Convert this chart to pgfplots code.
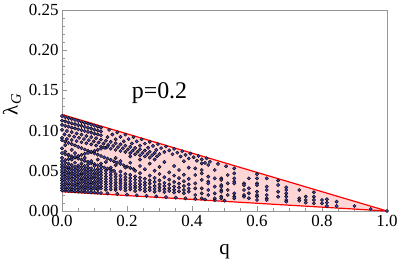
\documentclass[border=0pt]{standalone}
\usepackage{fontspec}
\setmainfont{Liberation Serif}
\usepackage{pgfplots}
\pgfplotsset{compat=1.18}
\definecolor{dotblue}{RGB}{68,68,168}
\definecolor{pinkfill}{RGB}{255,214,214}
\definecolor{framegray}{RGB}{150,150,150}
\begin{document}
\begin{tikzpicture}
\begin{axis}[
 scale only axis, width=325bp, height=201bp,
 xmin=0, xmax=1, ymin=0, ymax=0.25,
 axis line style={framegray, line width=0.6pt},
 tick style={framegray, line width=0.6pt},
 tick align=inside, tick pos=left,
 major tick length=5bp, minor tick length=3bp,
 xtick={0,0.2,0.4,0.6,0.8,1.0}, xticklabels={0.0,0.2,0.4,0.6,0.8,1.0},
 ytick={0,0.05,0.1,0.15,0.2,0.25}, yticklabels={0.00,0.05,0.10,0.15,0.20,0.25},
 minor x tick num=3, minor y tick num=4,
 ticklabel style={font=\fontsize{17}{20}\selectfont},
 xticklabel style={yshift=-1bp},
 xlabel={q}, ylabel={λ\textsubscript{\textit{G}}},
 label style={font=\fontsize{21}{24}\selectfont},
 xlabel style={at={(axis description cs:0.5,-0.2)}, anchor=center},
 ylabel style={at={(axis description cs:-0.154,0.53)}, anchor=center},
 clip=false,
]
\addplot[fill=pinkfill, draw=none] coordinates {(0,0.024) (0,0.12) (1,0) (0,0.024)};
\addplot[red, line width=1.2pt] coordinates {(0,0.12) (1,0)};
\addplot[red, line width=1.2pt] coordinates {(0,0.024) (1,0)};
\addplot[only marks, mark=*, mark size=1.7pt, mark options={fill=dotblue, draw=none}] coordinates {
(0,0.1180)(0.01,0.1168)(0.02,0.1156)(0.03,0.1145)(0.04,0.1133)(0.05,0.1121)(0.06,0.1109)(0.07,0.1097)(0.08,0.1086)(0.09,0.1074)(0.10,0.1062)(0.11,0.1050)(0.12,0.1038)
(0.145,0.1009)(0.17,0.0979)(0.195,0.0950)(0.22,0.0920)(0.245,0.0891)(0.27,0.0861)(0.295,0.0832)(0.32,0.0802)(0.345,0.0773)(0.37,0.0743)(0.395,0.0714)(0.42,0.0684)(0.445,0.0655)
(0,0.1125)(0.01,0.1114)(0.02,0.1103)(0.03,0.1091)(0.04,0.1080)(0.05,0.1069)(0.06,0.1058)(0.07,0.1046)(0.08,0.1035)(0.09,0.1024)(0.10,0.1013)(0.11,0.1001)(0.12,0.0990)
(0.155,0.0951)(0.18,0.0923)(0.205,0.0894)(0.23,0.0866)(0.255,0.0838)(0.28,0.0810)(0.305,0.0782)(0.33,0.0754)(0.355,0.0726)(0.38,0.0698)(0.405,0.0669)(0.43,0.0641)(0.455,0.0613)(0.48,0.0585)(0.505,0.0557)
(0,0.1070)(0.01,0.1059)(0.02,0.1049)(0.03,0.1038)(0.04,0.1027)(0.05,0.1017)(0.06,0.1006)(0.07,0.0995)(0.08,0.0984)(0.09,0.0974)(0.10,0.0963)(0.11,0.0952)(0.12,0.0942)
(0.14,0.0920)(0.165,0.0893)(0.19,0.0867)(0.215,0.0840)(0.24,0.0813)(0.265,0.0786)(0.29,0.0760)(0.315,0.0733)(0.34,0.0706)(0.365,0.0679)(0.39,0.0653)(0.415,0.0626)(0.44,0.0599)
(0,0.1010)(0.015,0.0995)(0.03,0.0980)(0.045,0.0965)(0.06,0.0949)(0.075,0.0934)(0.09,0.0919)(0.105,0.0904)(0.12,0.0889)(0.135,0.0874)(0.15,0.0859)(0.165,0.0843)(0.18,0.0828)(0.195,0.0813)(0.21,0.0798)(0.225,0.0783)(0.24,0.0768)(0.255,0.0752)(0.27,0.0737)(0.285,0.0722)(0.30,0.0707)
(0.0075,0.0953)(0.0225,0.0938)(0.0375,0.0924)(0.0525,0.0910)(0.0675,0.0895)(0.0825,0.0881)(0.0975,0.0866)(0.1125,0.0852)(0.1275,0.0838)(0.1425,0.0823)(0.1575,0.0809)(0.1725,0.0794)(0.1875,0.0780)(0.2025,0.0766)(0.2175,0.0751)(0.2325,0.0737)(0.2475,0.0722)(0.2625,0.0708)(0.2775,0.0694)(0.2925,0.0679)
(0,0.0910)(0.015,0.0896)(0.03,0.0883)(0.045,0.0869)(0.06,0.0855)(0.075,0.0842)(0.09,0.0828)(0.105,0.0814)(0.12,0.0801)(0.135,0.0787)(0.15,0.0774)(0.165,0.0760)(0.18,0.0746)(0.195,0.0733)(0.21,0.0719)(0.225,0.0705)(0.24,0.0692)(0.255,0.0678)(0.27,0.0664)
(0,0.0880)(0.01,0.0864)(0.02,0.0847)(0.03,0.0831)(0.04,0.0815)(0.05,0.0798)(0.06,0.0782)(0.07,0.0765)(0.08,0.0749)(0.09,0.0733)(0.10,0.0716)(0.11,0.0700)(0.12,0.0684)(0.13,0.0667)(0.14,0.0651)(0.15,0.0635)(0.16,0.0618)(0.17,0.0602)(0.18,0.0586)(0.19,0.0569)(0.20,0.0553)(0.21,0.0537)(0.22,0.0520)
(0,0.0720)(0.01,0.0706)(0.02,0.0693)(0.03,0.0679)(0.04,0.0665)(0.05,0.0651)(0.06,0.0638)(0.07,0.0624)(0.08,0.0610)(0.09,0.0596)(0.10,0.0583)(0.11,0.0569)(0.12,0.0555)(0.13,0.0541)(0.14,0.0528)(0.15,0.0514)(0.16,0.0500)
(0,0.0620)(0.01,0.0633)(0.02,0.0646)(0.03,0.0659)(0.04,0.0671)(0.05,0.0684)(0.06,0.0697)(0.07,0.0710)(0.08,0.0723)(0.09,0.0736)(0.10,0.0749)(0.11,0.0761)(0.12,0.0774)(0.13,0.0787)(0.14,0.0800)
(0,0.0255)(0.01,0.0252)(0.02,0.0250)(0.03,0.0247)(0.04,0.0245)(0.05,0.0242)(0.06,0.0240)(0.07,0.0237)(0.08,0.0235)(0.09,0.0232)(0.10,0.0230)(0.11,0.0227)(0.12,0.0224)
(0.14,0.0219)(0.17,0.0212)(0.20,0.0204)(0.23,0.0196)(0.26,0.0189)(0.29,0.0181)(0.32,0.0173)(0.35,0.0166)(0.38,0.0158)(0.41,0.0150)(0.44,0.0143)(0.47,0.0135)(0.50,0.0128)
(0,0.0285)(0,0.0315)(0,0.0345)(0,0.0380)(0,0.0410)(0,0.0445)(0,0.0480)(0,0.0510)(0,0.0545)(0,0.0580)(0,0.0660)(0,0.0780)
(0.01,0.0275)(0.01,0.0300)(0.01,0.0335)(0.01,0.0365)(0.01,0.0400)(0.01,0.0430)(0.01,0.0465)(0.01,0.0495)(0.01,0.0530)(0.01,0.0560)(0.01,0.0600)(0.01,0.0740)(0.01,0.0820)
(0.02,0.0285)(0.02,0.0320)(0.02,0.0350)(0.02,0.0390)(0.02,0.0420)(0.02,0.0455)(0.02,0.0485)(0.02,0.0520)(0.02,0.0550)(0.02,0.0590)(0.02,0.0700)
(0.03,0.0270)(0.03,0.0300)(0.03,0.0335)(0.03,0.0370)(0.03,0.0405)(0.03,0.0440)(0.03,0.0470)(0.03,0.0505)(0.03,0.0535)(0.03,0.0570)(0.03,0.0640)(0.03,0.0760)
(0.04,0.0280)(0.04,0.0315)(0.04,0.0345)(0.04,0.0380)(0.04,0.0415)(0.04,0.0450)(0.04,0.0480)(0.04,0.0515)(0.04,0.0550)(0.04,0.0600)(0.04,0.0720)
(0.05,0.0270)(0.05,0.0300)(0.05,0.0330)(0.05,0.0360)(0.05,0.0395)(0.05,0.0430)(0.05,0.0460)(0.05,0.0495)(0.05,0.0530)(0.05,0.0565)(0.05,0.0680)
(0.06,0.0280)(0.06,0.0310)(0.06,0.0345)(0.06,0.0380)(0.06,0.0410)(0.06,0.0445)(0.06,0.0475)(0.06,0.0510)(0.06,0.0545)(0.06,0.0590)
(0.07,0.0265)(0.07,0.0295)(0.07,0.0325)(0.07,0.0360)(0.07,0.0390)(0.07,0.0425)(0.07,0.0460)(0.07,0.0490)(0.07,0.0525)(0.07,0.0560)(0.07,0.0660)
(0.08,0.0275)(0.08,0.0310)(0.08,0.0340)(0.08,0.0375)(0.08,0.0405)(0.08,0.0440)(0.08,0.0470)(0.08,0.0505)(0.08,0.0540)(0.08,0.0580)
(0.09,0.0265)(0.09,0.0295)(0.09,0.0330)(0.09,0.0360)(0.09,0.0395)(0.09,0.0425)(0.09,0.0460)(0.09,0.0495)(0.09,0.0530)(0.09,0.0620)
(0.10,0.0275)(0.10,0.0305)(0.10,0.0340)(0.10,0.0370)(0.10,0.0410)(0.10,0.0440)(0.10,0.0475)(0.10,0.0510)(0.10,0.0560)
(0.11,0.0265)(0.11,0.0290)(0.11,0.0320)(0.11,0.0355)(0.11,0.0390)(0.11,0.0420)(0.11,0.0455)(0.11,0.0490)(0.11,0.0525)(0.11,0.0640)
(0.12,0.0280)(0.12,0.0310)(0.12,0.0345)(0.12,0.0375)(0.12,0.0410)(0.12,0.0445)(0.12,0.0480)(0.12,0.0515)(0.12,0.0590)
(0.135,0.0265)(0.135,0.0295)(0.135,0.0330)(0.135,0.0360)(0.135,0.0395)(0.135,0.0430)(0.135,0.0465)(0.135,0.0500)(0.135,0.0610)
(0.15,0.0270)(0.15,0.0305)(0.15,0.0340)(0.15,0.0375)(0.15,0.0410)(0.15,0.0445)(0.15,0.0480)(0.15,0.0540)
(0.165,0.0260)(0.165,0.0290)(0.165,0.0320)(0.165,0.0355)(0.165,0.0390)(0.165,0.0425)(0.165,0.0460)(0.165,0.0570)(0.165,0.0660)
(0.18,0.0275)(0.18,0.0305)(0.18,0.0340)(0.18,0.0370)(0.18,0.0400)(0.18,0.0440)(0.18,0.0490)(0.18,0.0620)
(0.195,0.0255)(0.195,0.0290)(0.195,0.0320)(0.195,0.0350)(0.195,0.0385)(0.195,0.0420)(0.195,0.0460)(0.195,0.0540)
(0.21,0.0270)(0.21,0.0300)(0.21,0.0335)(0.21,0.0370)(0.21,0.0410)(0.21,0.0450)(0.21,0.0600)(0.21,0.0680)
(0.225,0.0250)(0.225,0.0285)(0.225,0.0315)(0.225,0.0350)(0.225,0.0390)(0.225,0.0430)(0.225,0.0500)
(0.24,0.0265)(0.24,0.0300)(0.24,0.0335)(0.24,0.0375)(0.24,0.0415)(0.24,0.0470)(0.24,0.0560)(0.24,0.0640)
(0.255,0.0245)(0.255,0.0280)(0.255,0.0320)(0.255,0.0355)(0.255,0.0400)(0.255,0.0520)
(0.27,0.0260)(0.27,0.0295)(0.27,0.0340)(0.27,0.0380)(0.27,0.0440)(0.27,0.0590)
(0.285,0.0240)(0.285,0.0275)(0.285,0.0310)(0.285,0.0360)(0.285,0.0410)(0.285,0.0500)(0.285,0.0640)
(0.30,0.0255)(0.30,0.0290)(0.30,0.0330)(0.30,0.0380)(0.30,0.0460)(0.30,0.0550)
(0.315,0.0235)(0.315,0.0270)(0.315,0.0310)(0.315,0.0350)(0.315,0.0420)(0.315,0.0610)
(0.33,0.0250)(0.33,0.0285)(0.33,0.0330)(0.33,0.0390)(0.33,0.0480)
(0.345,0.0230)(0.345,0.0265)(0.345,0.0305)(0.345,0.0360)(0.345,0.0440)(0.345,0.0560)
(0.36,0.0245)(0.36,0.0290)(0.36,0.0340)(0.36,0.0410)(0.36,0.0510)
(0.375,0.0220)(0.375,0.0260)(0.375,0.0310)(0.375,0.0370)(0.375,0.0450)(0.375,0.0620)
(0.39,0.0240)(0.39,0.0280)(0.39,0.0330)(0.39,0.0400)(0.39,0.0540)
(0.41,0.0531)(0.41,0.0448)(0.41,0.0344)(0.41,0.0282)(0.41,0.0199)
(0.43,0.0593)(0.43,0.0510)(0.43,0.0468)(0.43,0.0386)(0.43,0.0282)(0.43,0.0220)(0.43,0.0158)
(0.45,0.0572)(0.45,0.0427)(0.45,0.0365)(0.45,0.0344)(0.45,0.0261)(0.45,0.0199)
(0.47,0.0510)(0.47,0.0406)(0.47,0.0303)(0.47,0.0220)(0.47,0.0158)
(0.49,0.0406)(0.49,0.0386)(0.49,0.0323)(0.49,0.0303)(0.49,0.0261)(0.49,0.0240)(0.49,0.0178)(0.49,0.0158)
(0.51,0.0448)(0.51,0.0344)(0.51,0.0261)(0.51,0.0199)
(0.53,0.0531)(0.53,0.0468)(0.53,0.0406)(0.53,0.0365)(0.53,0.0344)(0.53,0.0220)(0.53,0.0178)(0.53,0.0158)
(0.56,0.0344)(0.56,0.0323)(0.56,0.0261)(0.56,0.0199)(0.56,0.0178)
(0.575,0.0406)(0.575,0.0282)(0.575,0.0220)(0.575,0.0158)
(0.60,0.0458)(0.60,0.0406)(0.60,0.0344)(0.60,0.0323)(0.60,0.0240)(0.60,0.0199)(0.60,0.0178)(0.60,0.0137)
(0.63,0.0406)(0.63,0.0303)(0.63,0.0261)(0.63,0.0199)(0.63,0.0158)(0.63,0.0137)
(0.665,0.0380)(0.665,0.0323)(0.665,0.0240)(0.665,0.0178)
(0.69,0.0294)(0.69,0.0261)(0.69,0.0220)(0.69,0.0178)(0.69,0.0137)(0.69,0.0116)
(0.73,0.0261)(0.73,0.0158)(0.73,0.0128)
(0.75,0.0178)(0.75,0.0137)(0.75,0.0104)
(0.775,0.0232)(0.775,0.0178)(0.775,0.0137)(0.775,0.0095)
(0.80,0.0137)(0.80,0.0095)
(0.815,0.0145)(0.815,0.0104)(0.815,0.0062)
(0.845,0.0116)(0.845,0.0062)
(0.90,0.0062)(0.95,0.0025)(1.0,0)
};
\node[font=\fontsize{24}{28}\selectfont] at (axis cs:0.30,0.147) {p=0.2};
\coordinate (sw) at (rel axis cs:0,0);
\coordinate (ne) at (rel axis cs:1,1);
\end{axis}
\pgfresetboundingbox
\path[use as bounding box] ([shift={(-62bp,-50bp)}]sw) rectangle ([shift={(12bp,10bp)}]ne);
\end{tikzpicture}
\end{document}
